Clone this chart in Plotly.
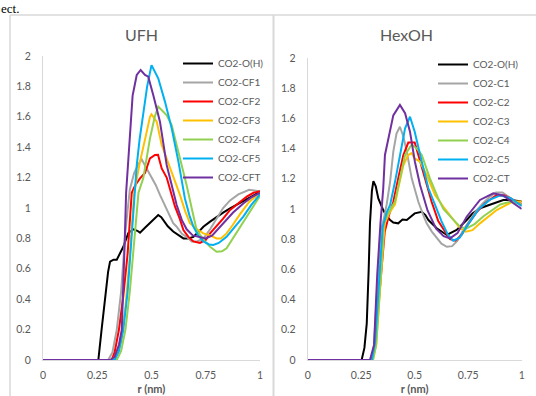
import plotly.graph_objects as go

# ---------------- data ----------------
# UFH panel
ufh_oh_r = [0, 0.255, 0.27, 0.286, 0.30, 0.309, 0.325, 0.34, 0.355, 0.37, 0.393, 0.416, 0.435, 0.447, 0.47, 0.493, 0.515, 0.531, 0.545, 0.554, 0.575, 0.60, 0.625, 0.647, 0.67, 0.693, 0.715, 0.739, 0.77, 0.80, 0.83, 0.862, 0.89, 0.923, 0.96, 0.992, 1.0]
ufh_oh_g = [0, 0, 0.2, 0.40, 0.58, 0.647, 0.66, 0.66, 0.70, 0.745, 0.835, 0.86, 0.85, 0.838, 0.87, 0.90, 0.93, 0.954, 0.94, 0.92, 0.88, 0.845, 0.82, 0.80, 0.80, 0.81, 0.84, 0.877, 0.91, 0.943, 0.97, 0.998, 1.02, 1.05, 1.08, 1.10, 1.10]

ufh_cf1_r = [0, 0.30, 0.32, 0.34, 0.36, 0.38, 0.40, 0.42, 0.44, 0.455, 0.47, 0.50, 0.52, 0.539, 0.57, 0.60, 0.616, 0.64, 0.662, 0.685, 0.71, 0.74, 0.77, 0.80, 0.83, 0.862, 0.90, 0.95, 1.0]
ufh_cf1_g = [0, 0, 0.05, 0.2, 0.45, 0.85, 1.12, 1.23, 1.29, 1.32, 1.28, 1.206, 1.15, 1.086, 0.987, 0.90, 0.877, 0.83, 0.81, 0.78, 0.78, 0.80, 0.86, 0.93, 1.0, 1.05, 1.09, 1.12, 1.11]

ufh_cf2_r = [0, 0.316, 0.33, 0.35, 0.37, 0.39, 0.409, 0.425, 0.447, 0.47, 0.493, 0.516, 0.53, 0.547, 0.57, 0.593, 0.608, 0.63, 0.647, 0.67, 0.693, 0.723, 0.75, 0.77, 0.80, 0.83, 0.862, 0.90, 0.939, 0.97, 1.0]
ufh_cf2_g = [0, 0, 0.05, 0.2, 0.42, 0.7, 1.1, 1.15, 1.195, 1.23, 1.327, 1.349, 1.35, 1.26, 1.2, 1.086, 1.01, 0.93, 0.855, 0.81, 0.78, 0.77, 0.79, 0.833, 0.88, 0.93, 0.987, 1.03, 1.075, 1.10, 1.11]

ufh_cf3_r = [0, 0.32, 0.34, 0.36, 0.38, 0.40, 0.42, 0.435, 0.447, 0.47, 0.493, 0.50, 0.524, 0.547, 0.57, 0.60, 0.631, 0.655, 0.677, 0.71, 0.739, 0.77, 0.80, 0.82, 0.846, 0.875, 0.908, 0.95, 1.0]
ufh_cf3_g = [0, 0, 0.04, 0.12, 0.35, 0.68, 1.1, 1.22, 1.305, 1.45, 1.60, 1.616, 1.568, 1.414, 1.327, 1.217, 1.086, 0.98, 0.90, 0.86, 0.833, 0.82, 0.80, 0.80, 0.833, 0.89, 0.96, 1.04, 1.10]

ufh_cf4_r = [0, 0.34, 0.36, 0.38, 0.40, 0.42, 0.44, 0.462, 0.493, 0.515, 0.531, 0.55, 0.57, 0.593, 0.624, 0.662, 0.685, 0.708, 0.74, 0.77, 0.80, 0.825, 0.846, 0.875, 0.908, 0.95, 0.992, 1.0]
ufh_cf4_g = [0, 0, 0.06, 0.2, 0.45, 0.8, 1.1, 1.195, 1.458, 1.6, 1.667, 1.64, 1.61, 1.546, 1.37, 1.15, 1.0, 0.855, 0.79, 0.745, 0.712, 0.715, 0.735, 0.80, 0.877, 0.97, 1.063, 1.08]

ufh_cf5_r = [0, 0.33, 0.35, 0.37, 0.39, 0.41, 0.42, 0.432, 0.445, 0.462, 0.48, 0.50, 0.515, 0.531, 0.562, 0.593, 0.624, 0.654, 0.675, 0.693, 0.715, 0.739, 0.765, 0.785, 0.81, 0.846, 0.88, 0.923, 0.96, 1.0]
ufh_cf5_g = [0, 0, 0.06, 0.2, 0.45, 0.85, 1.06, 1.28, 1.45, 1.633, 1.80, 1.94, 1.90, 1.853, 1.70, 1.524, 1.305, 1.063, 0.95, 0.877, 0.82, 0.78, 0.76, 0.757, 0.77, 0.81, 0.87, 0.943, 1.02, 1.09]

ufh_cft_r = [0, 0.309, 0.33, 0.35, 0.363, 0.37, 0.376, 0.383, 0.395, 0.413, 0.432, 0.45, 0.47, 0.485, 0.508, 0.539, 0.57, 0.60, 0.616, 0.64, 0.662, 0.69, 0.723, 0.75, 0.78, 0.83, 0.876, 0.923, 0.96, 1.0]
ufh_cft_g = [0, 0, 0.02, 0.1, 0.2, 0.45, 0.75, 1.1, 1.35, 1.74, 1.875, 1.908, 1.875, 1.864, 1.743, 1.568, 1.283, 1.12, 1.02, 0.92, 0.86, 0.82, 0.81, 0.80, 0.82, 0.90, 0.97, 1.03, 1.07, 1.10]

# HexOH panel
hex_oh_r = [0, 0.252, 0.265, 0.276, 0.285, 0.291, 0.30, 0.307, 0.318, 0.33, 0.353, 0.37, 0.385, 0.40, 0.423, 0.443, 0.463, 0.48, 0.50, 0.533, 0.55, 0.564, 0.603, 0.65, 0.696, 0.743, 0.77, 0.805, 0.867, 0.914, 0.95, 1.0]
hex_oh_g = [0, 0, 0.08, 0.243, 0.6, 0.905, 1.12, 1.185, 1.15, 1.07, 0.993, 0.95, 0.927, 0.91, 0.905, 0.93, 0.927, 0.95, 0.971, 0.982, 0.96, 0.927, 0.872, 0.828, 0.861, 0.927, 0.97, 1.005, 1.037, 1.06, 1.06, 1.05]

hex_c1_r = [0, 0.30, 0.31, 0.32, 0.33, 0.34, 0.355, 0.369, 0.385, 0.40, 0.415, 0.431, 0.447, 0.463, 0.486, 0.517, 0.54, 0.556, 0.58, 0.603, 0.625, 0.65, 0.675, 0.70, 0.727, 0.76, 0.79, 0.82, 0.852, 0.88, 0.91, 0.96, 1.0]
hex_c1_g = [0, 0, 0.1, 0.35, 0.62, 0.85, 0.93, 1.03, 1.18, 1.38, 1.50, 1.545, 1.48, 1.38, 1.203, 1.048, 0.96, 0.905, 0.85, 0.806, 0.77, 0.75, 0.754, 0.79, 0.861, 0.93, 0.993, 1.04, 1.082, 1.11, 1.11, 1.06, 1.02]

hex_c2_r = [0, 0.30, 0.315, 0.33, 0.345, 0.36, 0.38, 0.40, 0.423, 0.447, 0.47, 0.50, 0.517, 0.548, 0.579, 0.61, 0.64, 0.665, 0.69, 0.72, 0.75, 0.79, 0.83, 0.88, 0.92, 0.96, 1.0]
hex_c2_g = [0, 0, 0.1, 0.35, 0.65, 0.85, 0.96, 1.048, 1.203, 1.358, 1.44, 1.44, 1.358, 1.203, 1.048, 0.92, 0.85, 0.80, 0.79, 0.83, 0.90, 0.98, 1.04, 1.09, 1.09, 1.06, 1.03]

hex_c3_r = [0, 0.305, 0.32, 0.335, 0.344, 0.36, 0.38, 0.408, 0.423, 0.447, 0.47, 0.485, 0.50, 0.525, 0.556, 0.595, 0.634, 0.68, 0.712, 0.74, 0.77, 0.805, 0.845, 0.883, 0.92, 0.96, 1.0]
hex_c3_g = [0, 0, 0.1, 0.4, 0.57, 0.905, 0.97, 1.03, 1.137, 1.29, 1.358, 1.37, 1.335, 1.313, 1.225, 1.093, 1.015, 0.927, 0.872, 0.85, 0.86, 0.905, 0.95, 0.993, 1.02, 1.05, 1.05]

hex_c4_r = [0, 0.305, 0.32, 0.335, 0.342, 0.355, 0.375, 0.408, 0.431, 0.455, 0.486, 0.51, 0.533, 0.571, 0.61, 0.634, 0.68, 0.712, 0.74, 0.78, 0.82, 0.86, 0.90, 0.95, 1.0]
hex_c4_g = [0, 0, 0.1, 0.4, 0.57, 0.905, 0.97, 1.05, 1.203, 1.358, 1.428, 1.40, 1.358, 1.203, 1.07, 1.0, 0.93, 0.883, 0.87, 0.90, 0.95, 0.99, 1.03, 1.05, 1.03]

hex_c5_r = [0, 0.30, 0.315, 0.325, 0.335, 0.35, 0.37, 0.385, 0.408, 0.431, 0.455, 0.478, 0.50, 0.533, 0.564, 0.595, 0.625, 0.655, 0.68, 0.71, 0.75, 0.80, 0.85, 0.90, 0.95, 1.0]
hex_c5_g = [0, 0, 0.12, 0.35, 0.57, 0.88, 0.98, 1.027, 1.18, 1.358, 1.534, 1.611, 1.512, 1.313, 1.137, 1.027, 0.92, 0.83, 0.79, 0.81, 0.90, 1.0, 1.06, 1.09, 1.07, 1.02]

hex_ct_r = [0, 0.291, 0.31, 0.325, 0.34, 0.346, 0.353, 0.361, 0.385, 0.40, 0.431, 0.455, 0.478, 0.501, 0.525, 0.56, 0.60, 0.635, 0.665, 0.70, 0.743, 0.805, 0.867, 0.914, 0.96, 1.0]
hex_ct_g = [0, 0, 0.1, 0.57, 0.905, 1.015, 1.137, 1.358, 1.51, 1.62, 1.689, 1.634, 1.512, 1.313, 1.159, 0.99, 0.87, 0.82, 0.806, 0.84, 0.949, 1.06, 1.104, 1.09, 1.04, 1.0]

ufh_names = ["CO2-O(H)", "CO2-CF1", "CO2-CF2", "CO2-CF3", "CO2-CF4", "CO2-CF5", "CO2-CFT"]
hex_names = ["CO2-O(H)", "CO2-C1", "CO2-C2", "CO2-C3", "CO2-C4", "CO2-C5", "CO2-CT"]
series_colors = ["#000000", "#a5a5a5", "#ff0000", "#ffc000", "#92d050", "#00b0f0", "#7030a0"]

x_tickvals = [0, 0.25, 0.5, 0.75, 1]
x_ticktext = ["0", "0.25", "0.5", "0.75", "1"]
y_tickvals = [0, 0.2, 0.4, 0.6, 0.8, 1.0, 1.2, 1.4, 1.6, 1.8, 2.0]
y_ticktext = ["0", "0.2", "0.4", "0.6", "0.8", "1", "1.2", "1.4", "1.6", "1.8", "2"]

panel_titles = ["UFH", "HexOH"]
x_title = "r (nm)"

ufh_series = [(ufh_oh_r, ufh_oh_g), (ufh_cf1_r, ufh_cf1_g), (ufh_cf2_r, ufh_cf2_g),
              (ufh_cf3_r, ufh_cf3_g), (ufh_cf4_r, ufh_cf4_g), (ufh_cf5_r, ufh_cf5_g),
              (ufh_cft_r, ufh_cft_g)]
hex_series = [(hex_oh_r, hex_oh_g), (hex_c1_r, hex_c1_g), (hex_c2_r, hex_c2_g),
              (hex_c3_r, hex_c3_g), (hex_c4_r, hex_c4_g), (hex_c5_r, hex_c5_g),
              (hex_ct_r, hex_ct_g)]

# ---------------- figure ----------------
W, H = 536, 396
def fx(p):
    return p / W
def fy(p):
    return 1 - p / H

FONT = "Lato"
GREY = "#595959"
FRAME = "#d9d9d9"

fig = go.Figure()
for (r, g), name, col in zip(ufh_series, ufh_names, series_colors):
    fig.add_trace(go.Scatter(x=r, y=g, mode="lines", name=name,
                             line=dict(color=col, width=2),
                             xaxis="x", yaxis="y", legend="legend"))
for (r, g), name, col in zip(hex_series, hex_names, series_colors):
    fig.add_trace(go.Scatter(x=r, y=g, mode="lines", name=name,
                             line=dict(color=col, width=2),
                             xaxis="x2", yaxis="y2", legend="legend2"))

def xaxis(domain, anchor):
    return dict(domain=domain, anchor=anchor, range=[0, 1], tickvals=x_tickvals,
                ticktext=x_ticktext, showgrid=False, zeroline=False, showline=True,
                linecolor=FRAME, linewidth=1, ticks="", ticklabelstandoff=5,
                automargin=False,
                tickfont=dict(family=FONT, size=10.5, color=GREY),
                title=dict(text="<b>" + x_title + "</b>", standoff=5,
                           font=dict(family=FONT, size=11, color=GREY)))

def yaxis(domain, anchor):
    return dict(domain=domain, anchor=anchor, range=[0, 2], tickvals=y_tickvals,
                ticktext=y_ticktext, showgrid=False, zeroline=False, showline=True,
                linecolor=FRAME, linewidth=1, ticks="", ticklabelstandoff=9,
                automargin=False,
                tickfont=dict(family=FONT, size=10.5, color=GREY))

legend_common = dict(bgcolor="rgba(0,0,0,0)", borderwidth=0, itemwidth=30,
                     font=dict(family=FONT, size=10, color=GREY),
                     xanchor="left", yanchor="top", tracegroupgap=0)

fig.update_layout(
    template="none",
    width=W, height=H, margin=dict(l=0, r=0, t=0, b=0, autoexpand=False),
    paper_bgcolor="white", plot_bgcolor="white",
    xaxis=xaxis([fx(43), fx(260)], "y"),
    yaxis=yaxis([fy(360), fy(56)], "x"),
    xaxis2=xaxis([fx(307.7), fx(521.7)], "y2"),
    yaxis2=yaxis([fy(360), fy(58)], "x2"),
    legend=dict(x=fx(178), y=fy(49), **legend_common),
    legend2=dict(x=fx(433), y=fy(50), **legend_common),
    showlegend=True,
)

# panel titles
for txt, cx in zip(panel_titles, [141, 406]):
    fig.add_annotation(text=txt, x=fx(cx), y=fy(35), xref="paper", yref="paper",
                       xanchor="center", yanchor="middle", showarrow=False,
                       font=dict(family=FONT, size=16, color=GREY))

# document text visible above the charts
fig.add_annotation(text="ect.", x=0, y=1, xref="paper", yref="paper",
                   xanchor="left", yanchor="top", showarrow=False, borderpad=0,
                   font=dict(family="Liberation Serif", size=13, color="black"))

# chart frames
for x0, y0, x1, y1, w in [(10, 15, 536, 15, 1.5), (10, 15, 10, 396, 1.5), (273.5, 15, 273.5, 396, 2)]:
    fig.add_shape(type="line", xref="paper", yref="paper",
                  x0=fx(x0), y0=fy(y0), x1=fx(x1), y1=fy(y1),
                  line=dict(color=FRAME, width=w))

fig.write_html("out.html")
